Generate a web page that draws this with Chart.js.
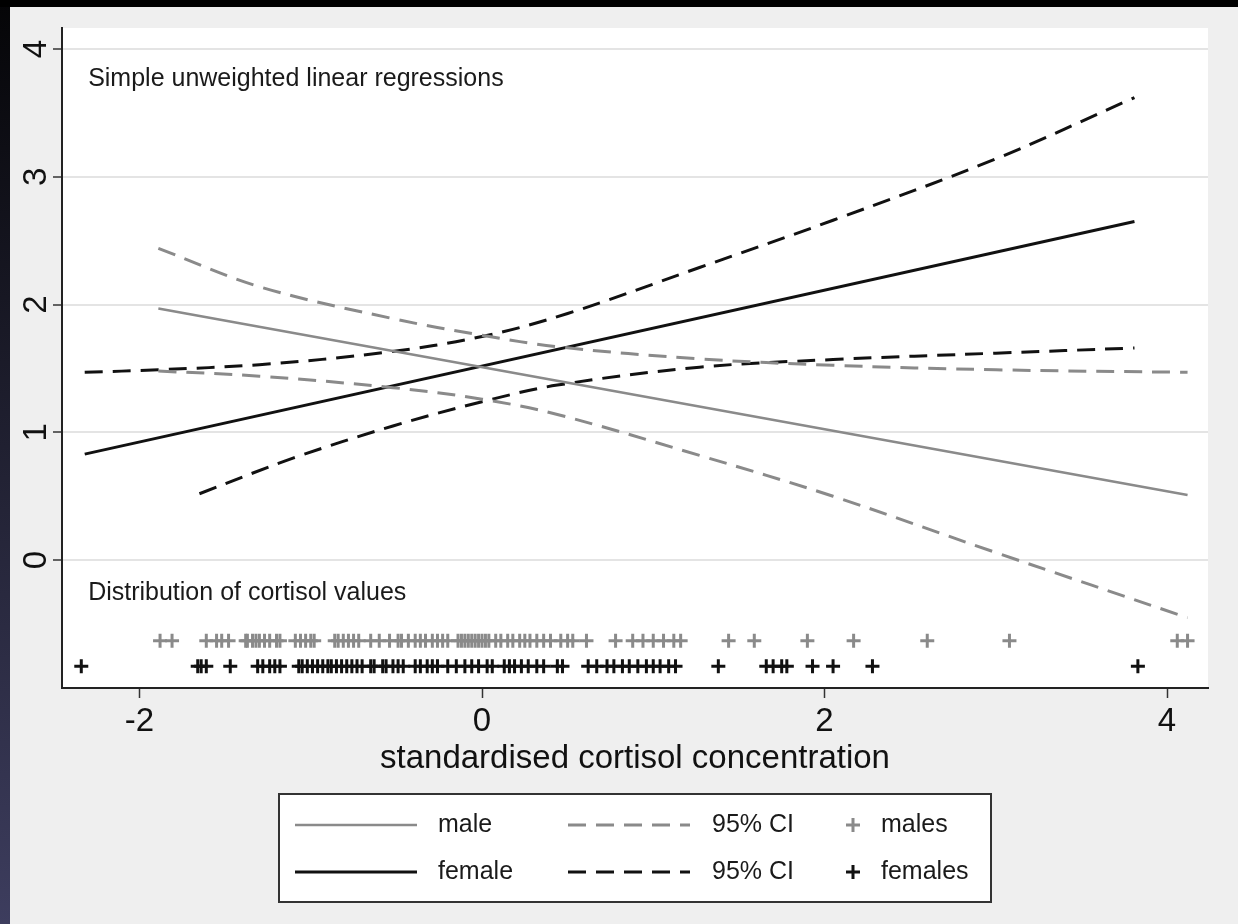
<!DOCTYPE html>
<html>
<head>
<meta charset="utf-8">
<script src="https://cdn.jsdelivr.net/npm/chart.js"></script>
<style>
  html, body { margin: 0; padding: 0; background: #efefef; }
  #chart { display: block; }
</style>
</head>
<body>
<canvas id="chart" width="1238" height="924"></canvas>
<script>
// fitted regression lines (standardised cortisol -> outcome)
const maleFitX = [-1.89, 4.12];
const maleFitY = [1.97, 0.51];
const femaleFitX = [-2.32, 3.81];
const femaleFitY = [0.83, 2.65];

// 95% CI bands
const maleCiX = [-1.89, -1.30, -0.52, 0.0, 0.44, 1.27, 2.05, 3.0, 4.12];
const maleCiUpper = [2.44, 2.14, 1.89, 1.76, 1.67, 1.575, 1.525, 1.49, 1.47];
const maleCiLower = [1.48, 1.44, 1.35, 1.26, 1.14, 0.82, 0.50, 0.06, -0.45];
const femaleCiUpperX = [-2.32, -1.89, -1.30, -0.57, 0.0, 0.5, 1.27, 2.05, 3.0, 3.81];
const femaleCiUpper = [1.47, 1.49, 1.53, 1.625, 1.75, 1.93, 2.29, 2.66, 3.14, 3.62];
const femaleCiLowerX = [-1.65, -1.10, -0.52, 0.0, 0.44, 1.27, 2.05, 3.0, 3.81];
const femaleCiLower = [0.52, 0.80, 1.05, 1.24, 1.37, 1.51, 1.57, 1.62, 1.66];

// distribution of cortisol values (rug)
const maleCortisol = [-1.88, -1.81, -1.61, -1.55, -1.52, -1.48, -1.38, -1.37, -1.34, -1.32,
  -1.30, -1.27, -1.24, -1.20, -1.18, -1.09, -1.06, -1.03, -1.00, -0.98, -0.86, -0.84, -0.81,
  -0.78, -0.75, -0.72, -0.65, -0.60, -0.54, -0.49, -0.47, -0.43, -0.39, -0.36, -0.33, -0.29,
  -0.26, -0.23, -0.20, -0.14, -0.12, -0.10, -0.08, -0.06, -0.04, -0.02, 0.00, 0.02, 0.04,
  0.08, 0.11, 0.15, 0.18, 0.22, 0.25, 0.28, 0.32, 0.36, 0.40, 0.46, 0.50, 0.53, 0.61, 0.78,
  0.88, 0.94, 1.00, 1.06, 1.12, 1.16, 1.44, 1.59, 1.90, 2.17, 2.60, 3.08, 4.06, 4.12];
const femaleCortisol = [-2.34, -1.66, -1.64, -1.61, -1.47, -1.31, -1.28, -1.24, -1.21, -1.18,
  -1.07, -1.05, -1.02, -0.99, -0.96, -0.93, -0.90, -0.88, -0.85, -0.82, -0.79, -0.76, -0.73,
  -0.70, -0.65, -0.63, -0.58, -0.56, -0.52, -0.49, -0.46, -0.39, -0.36, -0.32, -0.29, -0.26,
  -0.20, -0.15, -0.10, -0.06, -0.02, 0.03, 0.06, 0.13, 0.16, 0.19, 0.23, 0.27, 0.32, 0.36,
  0.44, 0.47, 0.62, 0.67, 0.73, 0.77, 0.82, 0.86, 0.91, 0.96, 1.00, 1.04, 1.09, 1.13, 1.38,
  1.66, 1.70, 1.75, 1.78, 1.93, 2.05, 2.28, 3.83];
const maleRugY = -0.63;
const femaleRugY = -0.83;

const xTickValues = [-2, 0, 2, 4];
const yTickValues = [0, 1, 2, 3, 4];

const notes = [
  { text: 'Simple unweighted linear regressions', x: -2.30, y: 3.71 },
  { text: 'Distribution of cortisol values', x: -2.30, y: -0.31 }
];

const grey = '#8a8a8a';
const black = '#111111';
const dash = [18, 10];

Chart.defaults.font.family = '"Liberation Sans", Arial, Helvetica, sans-serif';
Chart.defaults.color = '#111';

function pts(xs, ys) { return xs.map((x, i) => ({ x: x, y: ys[i] })); }
function rug(xs, y) { return xs.map(x => ({ x: x, y: y })); }

const backdrop = {
  id: 'backdrop',
  beforeDraw(chart) {
    const { ctx, chartArea: a, width, height } = chart;
    ctx.save();
    ctx.fillStyle = '#efefef';
    ctx.fillRect(0, 0, width, height);
    const g = ctx.createLinearGradient(0, 0, 0, height);
    g.addColorStop(0, '#050507');
    g.addColorStop(1, '#3d3d5e');
    ctx.fillStyle = g;
    ctx.fillRect(0, 0, 10, height);
    ctx.fillStyle = '#000';
    ctx.fillRect(0, 0, width, 7);
    ctx.fillStyle = '#fff';
    ctx.fillRect(a.left, a.top, a.right - a.left, a.bottom - a.top);
    ctx.restore();
  }
};

const annotations = {
  id: 'annotations',
  afterDraw(chart) {
    const { ctx, scales } = chart;
    ctx.save();
    ctx.font = '25px ' + Chart.defaults.font.family;
    ctx.fillStyle = '#1a1a1a';
    ctx.textAlign = 'left';
    ctx.textBaseline = 'alphabetic';
    notes.forEach(n => {
      ctx.fillText(n.text, scales.x.getPixelForValue(n.x), scales.y.getPixelForValue(n.y));
    });
    ctx.restore();
  }
};

// stata-style legend box under the axis title
const boxLegend = {
  id: 'boxLegend',
  afterDraw(chart) {
    const ctx = chart.ctx;
    const ds = chart.data.datasets;
    const rows = [[0, 1, 6], [3, 4, 7]];
    const rowY = [825, 872];
    const cols = [295, 568, 853];
    const labelX = [438, 712, 881];
    ctx.save();
    ctx.fillStyle = '#fff';
    ctx.fillRect(279, 794, 712, 108);
    ctx.strokeStyle = '#333';
    ctx.lineWidth = 2;
    ctx.strokeRect(279, 794, 712, 108);
    ctx.font = '25px ' + Chart.defaults.font.family;
    ctx.textBaseline = 'middle';
    ctx.textAlign = 'left';
    rows.forEach((row, r) => {
      const y = rowY[r];
      row.forEach((idx, c) => {
        const d = ds[idx];
        ctx.strokeStyle = d.borderColor;
        if (d.showLine) {
          ctx.lineWidth = d.borderWidth;
          ctx.setLineDash(d.borderDash || []);
          ctx.beginPath();
          ctx.moveTo(cols[c], y);
          ctx.lineTo(cols[c] + 122, y);
          ctx.stroke();
          ctx.setLineDash([]);
        } else {
          const rr = d.pointRadius;
          ctx.lineWidth = d.borderWidth;
          ctx.beginPath();
          ctx.moveTo(cols[c] - rr, y); ctx.lineTo(cols[c] + rr, y);
          ctx.moveTo(cols[c], y - rr); ctx.lineTo(cols[c], y + rr);
          ctx.stroke();
        }
        ctx.fillStyle = '#1a1a1a';
        ctx.fillText(d.label, labelX[c], y);
      });
    });
    ctx.restore();
  }
};

const lineDefaults = { showLine: true, pointRadius: 0, fill: false };
const curve = { tension: 0.35 };

new Chart(document.getElementById('chart'), {
  type: 'scatter',
  data: {
    datasets: [
      Object.assign({ label: 'male', data: pts(maleFitX, maleFitY), borderColor: grey, borderWidth: 2.5 }, lineDefaults),
      Object.assign({ label: '95% CI', data: pts(maleCiX, maleCiUpper), borderColor: grey, borderWidth: 3, borderDash: dash }, lineDefaults, curve),
      Object.assign({ label: '95% CI', data: pts(maleCiX, maleCiLower), borderColor: grey, borderWidth: 3, borderDash: dash }, lineDefaults, curve),
      Object.assign({ label: 'female', data: pts(femaleFitX, femaleFitY), borderColor: black, borderWidth: 3 }, lineDefaults),
      Object.assign({ label: '95% CI', data: pts(femaleCiUpperX, femaleCiUpper), borderColor: black, borderWidth: 3, borderDash: dash }, lineDefaults, curve),
      Object.assign({ label: '95% CI', data: pts(femaleCiLowerX, femaleCiLower), borderColor: black, borderWidth: 3, borderDash: dash }, lineDefaults, curve),
      { label: 'males', data: rug(maleCortisol, maleRugY), showLine: false, pointStyle: 'cross', pointRadius: 7, borderColor: grey, borderWidth: 3 },
      { label: 'females', data: rug(femaleCortisol, femaleRugY), showLine: false, pointStyle: 'cross', pointRadius: 7, borderColor: black, borderWidth: 3 }
    ]
  },
  options: {
    responsive: false,
    animation: false,
    devicePixelRatio: 1,
    layout: { padding: { top: 28, right: 30, left: 0, bottom: 0 } },
    plugins: { legend: { display: false }, tooltip: { enabled: false } },
    scales: {
      x: {
        type: 'linear',
        min: -2.4526,
        max: 4.2394,
        afterBuildTicks: s => { s.ticks = xTickValues.map(v => ({ value: v })); },
        afterFit: s => { s.height = 236; },
        ticks: { font: { size: 33 }, color: '#111', padding: 4, maxRotation: 0, callback: v => String(v) },
        grid: { drawOnChartArea: false, tickColor: '#333', tickLength: 10, tickWidth: 1.5 },
        border: { color: '#222', width: 2 },
        title: { display: true, text: 'standardised cortisol concentration', font: { size: 33 }, color: '#111', padding: { top: 0, bottom: 145 } }
      },
      y: {
        min: -1,
        max: 4.164,
        afterBuildTicks: s => { s.ticks = yTickValues.map(v => ({ value: v })); },
        afterFit: s => { s.width = 62; },
        ticks: { minRotation: 90, maxRotation: 90, crossAlign: 'center', padding: 7, font: { size: 33 }, color: '#111', callback: v => String(v) },
        grid: { color: '#e4e4e4', lineWidth: 2, tickColor: '#333', tickLength: 9, tickWidth: 1.5 },
        border: { color: '#222', width: 2 }
      }
    }
  },
  plugins: [backdrop, annotations, boxLegend]
});
</script>
</body>
</html>
